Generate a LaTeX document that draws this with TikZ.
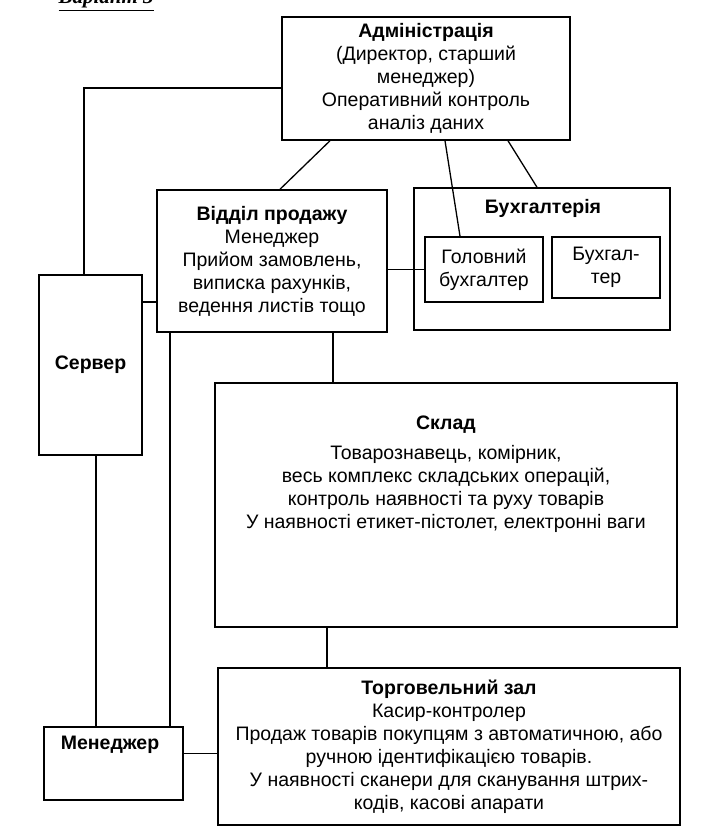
\documentclass[tikz,border=0pt]{standalone}
\usepackage{fontspec}
\setmainfont{Liberation Sans}
\newfontfamily\headfont{Liberation Serif}
\usepackage{xcolor}

\begin{document}
\begin{tikzpicture}[x=1pt, y=-1pt,
    line width=1.3pt,
    every node/.style={font=\fontsize{19.5}{23}\selectfont, align=center, inner sep=2pt},
    unitbox/.style={draw, line width=1.5pt}]
        \useasboundingbox (0,0) rectangle (705,834);

        % Heading (cut at the top edge)
        \node[anchor=base west, inner sep=0pt] (head) at (58,4) {\headfont\bfseries\itshape\fontsize{21}{23}\selectfont\underline{Варіант 3}};

        % Administration
        \node[unitbox, minimum width=288pt, minimum height=123pt] (admin) at (426,78.5)
            {\textbf{Адміністрація}\\(Директор, старший\\менеджер)\\Оперативний контроль\\аналіз даних};

        % Sales department
        \node[unitbox, minimum width=230pt, minimum height=142pt] (sales) at (272,261)
            {\textbf{Відділ продажу}\\Менеджер\\Прийом замовлень,\\виписка рахунків,\\ведення листів тощо};

        % Accounting
        \node[unitbox, minimum width=256pt, minimum height=142pt] (acc) at (542,259) {};
        \node (acctitle) at (543,208) {\textbf{Бухгалтерія}};
        \node[unitbox, minimum width=118pt, minimum height=65pt] (chief) at (484,269.5) {Головний\\бухгалтер};
        \node[unitbox, minimum width=108pt, minimum height=61pt] (clerk) at (606,267.5) {Бухгал-\\тер};

        % Server
        \node[unitbox, minimum width=103pt, minimum height=180pt] (server) at (90.5,365) {\textbf{Сервер}};

        % Warehouse
        \node[unitbox, minimum width=462pt, minimum height=244pt] (store) at (446,505) {};
        \node (storetext) at (446,474.5)
            {\textbf{Склад}\\[7pt]Товарознавець, комірник,\\весь комплекс складських операцій,\\контроль наявності та руху товарів\\У наявності етикет-пістолет, електронні ваги};

        % Sales floor
        \node[unitbox, minimum width=462pt, minimum height=157pt] (hall) at (449,746.5)
            {\textbf{Торговельний зал}\\Касир-контролер\\Продаж товарів покупцям з автоматичною, або\\ручною ідентифікацією товарів.\\У наявності сканери для сканування штрих-\\кодів, касові апарати};

        % Manager
        \node[unitbox, minimum width=139pt, minimum height=73pt] (mgr) at (113.5,763.5) {};
        \node (mgrtext) at (110,745) {\textbf{Менеджер}};

        % Links from administration
        \draw ([yshift=-9.5pt]admin.west) -| ([xshift=-6.5pt]server.north);
        \draw ([xshift=-96pt]admin.south) -- ([xshift=8pt]sales.north);
        \draw ([xshift=19pt]admin.south) -- ([xshift=-24pt]chief.north);
        \draw ([xshift=82pt]admin.south) -- ([xshift=-5pt]acc.north);

        % Links of the sales department
        \draw (sales.east |- chief.west) -- (chief.west);
        \draw ([yshift=63pt]server.east) coordinate (s1) -- (s1 -| sales.west);
        \draw ([xshift=-102pt]sales.south) coordinate (s2) -- (s2 |- mgr.north);
        \draw ([xshift=61pt]sales.south) coordinate (s3) -- (s3 |- store.north);

        % Lower links
        \draw ([xshift=-119pt]store.south) coordinate (s4) -- (s4 |- hall.north);
        \draw ([xshift=5.5pt]server.south) coordinate (s5) -- (s5 |- mgr.north);
        \draw ([yshift=10pt]mgr.east) coordinate (s6) -- (s6 -| hall.west);
    \end{tikzpicture}
\end{document}
